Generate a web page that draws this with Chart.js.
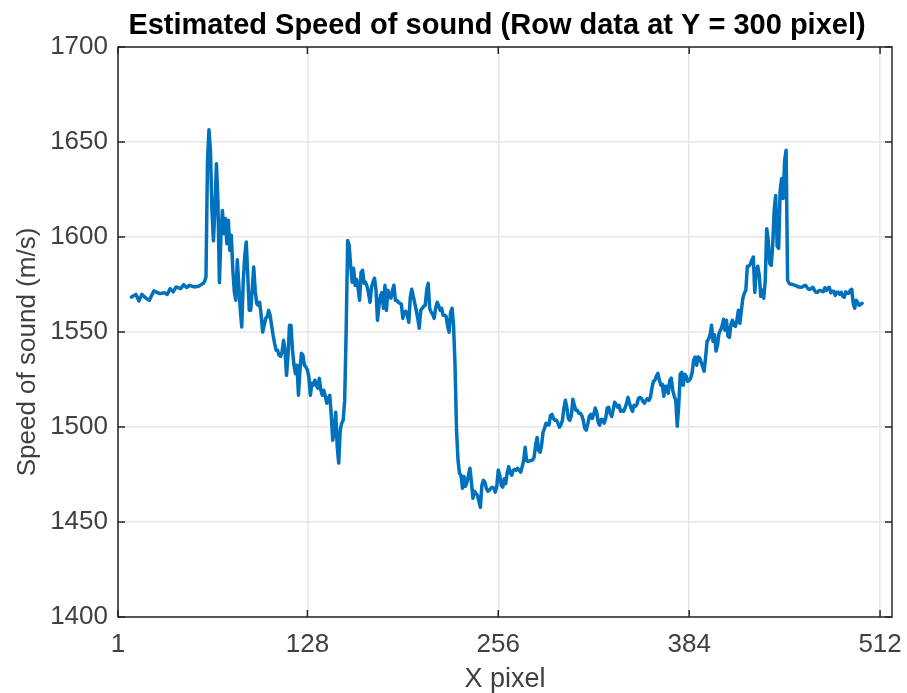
<!DOCTYPE html>
<html>
<head>
<meta charset="utf-8">
<script src="https://cdn.jsdelivr.net/npm/chart.js@4/dist/chart.umd.min.js"></script>
<style>
  html, body { margin: 0; padding: 0; background: #ffffff; }
  #wrap { width: 907px; height: 693px; position: relative; }
</style>
</head>
<body>
<div id="wrap"><canvas id="c" width="907" height="693"></canvas></div>
<script>
// Row profile: X pixel index and estimated speed of sound (m/s)
const xPixel = [
  10, 13, 15, 17, 20, 22, 25, 29, 32, 34, 36, 38, 40, 43, 45, 47, 49, 52, 55, 58,
  59, 60, 61, 62, 63, 64, 65, 66, 67, 68, 69, 70, 71, 72, 73, 74, 75, 76, 77, 78,
  79, 80, 81, 82, 83, 84, 85, 86, 87, 88, 89, 90, 91, 92, 93, 94, 95, 96, 97, 98,
  99, 100, 101, 102, 103, 104, 105, 106, 107, 108, 109, 110, 111, 112, 113, 114, 115, 116, 117, 118,
  119, 120, 121, 122, 123, 124, 125, 126, 127, 128, 129, 130, 131, 132, 133, 134, 135, 136, 137, 138,
  139, 140, 141, 142, 143, 144, 145, 146, 147, 148, 149, 150, 151, 152, 153, 154, 155, 156, 157, 158,
  159, 160, 161, 162, 163, 164, 165, 166, 167, 168, 169, 170, 171, 172, 173, 174, 175, 176, 177, 178,
  179, 180, 181, 182, 183, 184, 185, 186, 187, 188, 189, 190, 191, 192, 193, 194, 195, 196, 197, 198,
  199, 200, 201, 202, 203, 204, 205, 206, 207, 208, 209, 210, 211, 212, 213, 214, 215, 216, 217, 218,
  219, 220, 221, 222, 223, 224, 225, 226, 227, 228, 229, 230, 231, 232, 233, 234, 235, 236, 237, 238,
  239, 240, 241, 242, 243, 244, 245, 246, 247, 248, 249, 250, 251, 252, 253, 254, 255, 256, 257, 258,
  259, 260, 261, 262, 263, 264, 265, 266, 267, 268, 269, 270, 271, 272, 273, 274, 275, 276, 277, 278,
  279, 280, 281, 282, 283, 284, 285, 286, 287, 288, 289, 290, 291, 292, 293, 294, 295, 296, 297, 298,
  299, 300, 301, 302, 303, 304, 305, 306, 307, 308, 309, 310, 311, 312, 313, 314, 315, 316, 317, 318,
  319, 320, 321, 322, 323, 324, 325, 326, 327, 328, 329, 330, 331, 332, 333, 334, 335, 336, 337, 338,
  339, 340, 341, 342, 343, 344, 345, 346, 347, 348, 349, 350, 351, 352, 353, 354, 355, 356, 357, 358,
  359, 360, 361, 362, 363, 364, 365, 366, 367, 368, 369, 370, 371, 372, 373, 374, 375, 376, 377, 378,
  379, 380, 381, 382, 383, 384, 385, 386, 387, 388, 389, 390, 391, 392, 393, 394, 395, 396, 397, 398,
  399, 400, 401, 402, 403, 404, 405, 406, 407, 408, 409, 410, 411, 412, 413, 414, 415, 416, 417, 418,
  419, 420, 421, 422, 423, 424, 425, 426, 427, 428, 429, 430, 431, 432, 433, 434, 435, 436, 437, 438,
  439, 440, 441, 442, 443, 444, 445, 446, 447, 448, 449, 450, 451, 452, 453, 454, 455, 456, 457, 458,
  459, 460, 461, 462, 463, 464, 465, 466, 467, 468, 469, 470, 471, 472, 473, 474, 475, 476, 477, 478,
  479, 480, 481, 482, 483, 484, 485, 486, 487, 488, 489, 490, 491, 492, 493, 494, 495, 496, 497, 498,
  499, 500
];

const speed = [
  1568.4, 1569.8, 1566.3, 1569.8, 1567.6, 1566.7, 1571.6, 1570.2, 1570.7, 1569.8, 1572.8, 1571.1, 1573.7, 1572.8, 1574.9, 1573.4, 1574.6, 1573.7, 1574.1, 1575.5,
  1576.5, 1579.0, 1640.0, 1656.5, 1645.0, 1614.0, 1598.0, 1615.0, 1638.6, 1619.0, 1576.0, 1600.0, 1614.0, 1601.8, 1609.7, 1596.5, 1608.8, 1593.0, 1600.9, 1582.5,
  1571.1, 1566.7, 1588.0, 1575.0, 1561.5, 1552.6, 1577.0, 1590.0, 1597.4, 1580.0, 1561.5, 1561.5, 1572.0, 1584.2, 1572.0, 1565.0, 1564.0, 1565.6, 1558.8, 1550.0,
  1553.5, 1557.2, 1557.9, 1561.4, 1558.8, 1553.5, 1548.3, 1544.0, 1540.4, 1540.4, 1537.8, 1537.2, 1539.5, 1545.6, 1540.0, 1527.2, 1537.7, 1553.5, 1553.5, 1540.4,
  1532.5, 1528.0, 1532.5, 1516.7, 1529.8, 1538.8, 1537.7, 1532.5, 1531.6, 1530.0, 1526.3, 1516.7, 1523.0, 1522.0, 1524.6, 1522.0, 1520.4, 1525.6, 1519.3, 1516.7,
  1519.3, 1516.2, 1512.5, 1515.0, 1516.7, 1506.2, 1493.0, 1498.3, 1507.8, 1489.5, 1481.0, 1498.3, 1502.0, 1503.6, 1514.0, 1550.9, 1598.2, 1595.6, 1585.1, 1576.2,
  1583.5, 1574.6, 1577.7, 1573.0, 1566.7, 1581.4, 1582.5, 1575.6, 1576.2, 1574.0, 1570.4, 1565.6, 1573.5, 1576.2, 1578.3, 1572.0, 1556.2, 1564.0, 1569.2, 1570.8,
  1562.5, 1574.6, 1561.4, 1572.0, 1568.8, 1567.8, 1572.0, 1574.6, 1566.7, 1566.7, 1565.6, 1565.1, 1564.6, 1557.2, 1560.4, 1560.9, 1558.8, 1555.1, 1568.3, 1572.5,
  1568.8, 1565.1, 1561.4, 1557.2, 1552.0, 1561.4, 1562.5, 1563.5, 1564.0, 1572.0, 1575.6, 1562.5, 1560.4, 1559.3, 1557.2, 1562.5, 1565.6, 1564.0, 1561.4, 1562.5,
  1558.8, 1558.8, 1558.3, 1553.0, 1549.9, 1560.4, 1562.5, 1553.5, 1532.5, 1498.3, 1482.5, 1475.6, 1474.6, 1467.8, 1474.0, 1468.8, 1470.9, 1474.6, 1478.3, 1470.9,
  1462.5, 1466.2, 1465.1, 1464.1, 1460.9, 1457.7, 1469.3, 1471.9, 1470.9, 1467.8, 1466.2, 1466.7, 1467.8, 1468.3, 1467.8, 1465.7, 1468.8, 1477.3, 1474.6, 1469.3,
  1468.3, 1472.8, 1470.2, 1476.0, 1479.1, 1476.0, 1474.6, 1477.2, 1477.7, 1477.2, 1478.3, 1477.2, 1476.2, 1479.1, 1482.3, 1489.3, 1482.3, 1481.8, 1482.3, 1482.3,
  1482.8, 1484.0, 1490.3, 1494.5, 1487.7, 1486.7, 1490.3, 1497.2, 1499.3, 1502.0, 1501.0, 1501.0, 1506.0, 1506.6, 1504.5, 1503.5, 1503.5, 1502.0, 1499.9, 1501.0,
  1503.5, 1510.0, 1514.1, 1510.0, 1504.5, 1503.5, 1506.0, 1514.6, 1511.4, 1508.8, 1508.8, 1507.2, 1507.2, 1506.0, 1503.5, 1499.3, 1498.3, 1501.5, 1505.5, 1506.6,
  1504.5, 1506.6, 1510.0, 1507.7, 1502.5, 1501.0, 1504.0, 1504.0, 1502.0, 1504.5, 1510.0, 1510.4, 1507.2, 1505.5, 1508.8, 1513.0, 1512.0, 1510.4, 1511.4, 1508.2,
  1508.8, 1508.2, 1510.0, 1512.5, 1515.6, 1512.5, 1510.0, 1508.2, 1511.4, 1510.9, 1512.0, 1515.0, 1515.6, 1515.0, 1513.5, 1512.5, 1514.0, 1515.0, 1514.0, 1515.6,
  1520.4, 1524.0, 1524.6, 1526.7, 1528.3, 1524.6, 1522.0, 1522.5, 1516.2, 1521.4, 1521.4, 1517.7, 1524.6, 1525.7, 1519.3, 1516.2, 1514.0, 1500.4, 1511.4, 1527.8,
  1528.8, 1522.0, 1527.8, 1526.7, 1524.0, 1524.6, 1525.7, 1528.8, 1535.1, 1536.8, 1532.5, 1536.8, 1536.3, 1534.1, 1532.0, 1529.3, 1536.6, 1545.1, 1546.2, 1548.6,
  1553.5, 1545.1, 1548.6, 1540.0, 1543.0, 1549.3, 1550.9, 1553.0, 1556.7, 1550.9, 1556.2, 1547.7, 1547.2, 1554.0, 1556.2, 1553.5, 1553.0, 1556.2, 1561.4, 1554.6,
  1561.4, 1567.8, 1570.4, 1572.0, 1584.6, 1584.6, 1585.7, 1587.8, 1589.4, 1570.8, 1582.5, 1584.6, 1579.9, 1568.8, 1572.0, 1567.8, 1577.0, 1604.4, 1598.3, 1586.1,
  1585.1, 1595.6, 1614.0, 1621.9, 1595.1, 1594.0, 1624.5, 1630.8, 1620.3, 1640.4, 1645.7, 1577.3, 1575.6, 1575.1, 1575.1, 1574.8, 1574.6, 1574.3, 1573.7, 1573.7,
  1573.5, 1573.8, 1574.3, 1574.6, 1573.5, 1572.5, 1572.5, 1573.0, 1573.5, 1571.9, 1570.9, 1570.9, 1571.7, 1571.9, 1571.4, 1571.2, 1573.3, 1571.9, 1573.0, 1573.5,
  1570.6, 1571.4, 1571.4, 1569.3, 1570.9, 1570.9, 1569.8, 1570.9, 1568.8, 1568.3, 1571.1, 1570.4, 1570.4, 1571.9, 1572.5, 1565.1, 1562.5, 1566.7, 1565.6, 1564.0,
  1564.6, 1565.1
];

const xTicks = [1, 128, 256, 384, 512];
const yTicks = [1400, 1450, 1500, 1550, 1600, 1650, 1700];

const titleText = 'Estimated Speed of sound (Row data at Y = 300 pixel)';
const xTitle = 'X pixel';
const yTitle = 'Speed of sound (m/s)';

const AXIS_COLOR = '#262626';
const TEXT_COLOR = '#404040';
const GRID_COLOR = '#e6e6e6';
const LINE_COLOR = '#0072bd';
const FONT = '"Liberation Sans", Arial, Helvetica, sans-serif';

const points = xPixel.map((x, i) => ({ x: x, y: speed[i] }));

// Axes box with inward tick marks on all four sides, the title and the y label
const boxPlugin = {
  id: 'boxPlugin',
  afterDraw(chart) {
    const { ctx, chartArea: a, scales } = chart;
    const xs = scales.x, ys = scales.y;
    ctx.save();
    ctx.strokeStyle = AXIS_COLOR;
    ctx.lineWidth = 1.5;
    ctx.strokeRect(a.left, a.top, a.right - a.left, a.bottom - a.top);
    const tl = 7;
    ctx.beginPath();
    xTicks.forEach(v => {
      const px = xs.getPixelForValue(v);
      ctx.moveTo(px, a.bottom); ctx.lineTo(px, a.bottom - tl);
      ctx.moveTo(px, a.top); ctx.lineTo(px, a.top + tl);
    });
    yTicks.forEach(v => {
      const py = ys.getPixelForValue(v);
      ctx.moveTo(a.left, py); ctx.lineTo(a.left + tl, py);
      ctx.moveTo(a.right, py); ctx.lineTo(a.right - tl, py);
    });
    ctx.stroke();

    ctx.fillStyle = '#000000';
    ctx.font = 'bold 29px ' + FONT;
    ctx.textAlign = 'center';
    ctx.textBaseline = 'middle';
    ctx.fillText(titleText, (a.left + a.right) / 2 - 8, 26);

    ctx.fillStyle = TEXT_COLOR;
    ctx.font = '26px ' + FONT;
    ctx.translate(28, (a.top + a.bottom) / 2 + 20);
    ctx.rotate(-Math.PI / 2);
    ctx.fillText(yTitle, 0, 0);
    ctx.restore();
  }
};

new Chart(document.getElementById('c'), {
  type: 'line',
  data: {
    datasets: [{
      data: points,
      borderColor: LINE_COLOR,
      borderWidth: 3.5,
      pointRadius: 0,
      tension: 0,
      fill: false,
      borderJoinStyle: 'round',
      borderCapStyle: 'round'
    }]
  },
  options: {
    responsive: false,
    animation: false,
    layout: { padding: { top: 47, right: 15, left: 0, bottom: 0 } },
    plugins: {
      legend: { display: false },
      tooltip: { enabled: false },
      title: { display: false }
    },
    scales: {
      x: {
        type: 'linear',
        min: 1,
        max: 520,
        afterBuildTicks(scale) { scale.ticks = xTicks.map(v => ({ value: v })); },
        afterFit(scale) {
          scale.height = 76;
          scale.paddingLeft = 0;
          scale.paddingRight = 0;
        },
        ticks: {
          color: TEXT_COLOR,
          font: { family: FONT, size: 26 },
          padding: 12,
          maxRotation: 0,
          autoSkip: false,
          callback: v => String(v)
        },
        grid: { color: GRID_COLOR, lineWidth: 1.5, drawTicks: false },
        border: { display: false },
        title: {
          display: true,
          text: xTitle,
          color: TEXT_COLOR,
          font: { family: FONT, size: 27, lineHeight: 1 },
          padding: { top: 0, bottom: 0 }
        }
      },
      y: {
        type: 'linear',
        min: 1400,
        max: 1700,
        afterBuildTicks(scale) { scale.ticks = yTicks.map(v => ({ value: v })); },
        afterFit(scale) {
          scale.width = 118;
          scale.paddingTop = 0;
          scale.paddingBottom = 0;
        },
        ticks: {
          color: TEXT_COLOR,
          font: { family: FONT, size: 26 },
          padding: 10,
          callback: v => String(v)
        },
        grid: { color: GRID_COLOR, lineWidth: 1.5, drawTicks: false },
        border: { display: false },
        title: { display: false }
      }
    }
  },
  plugins: [boxPlugin]
});
</script>
</body>
</html>
